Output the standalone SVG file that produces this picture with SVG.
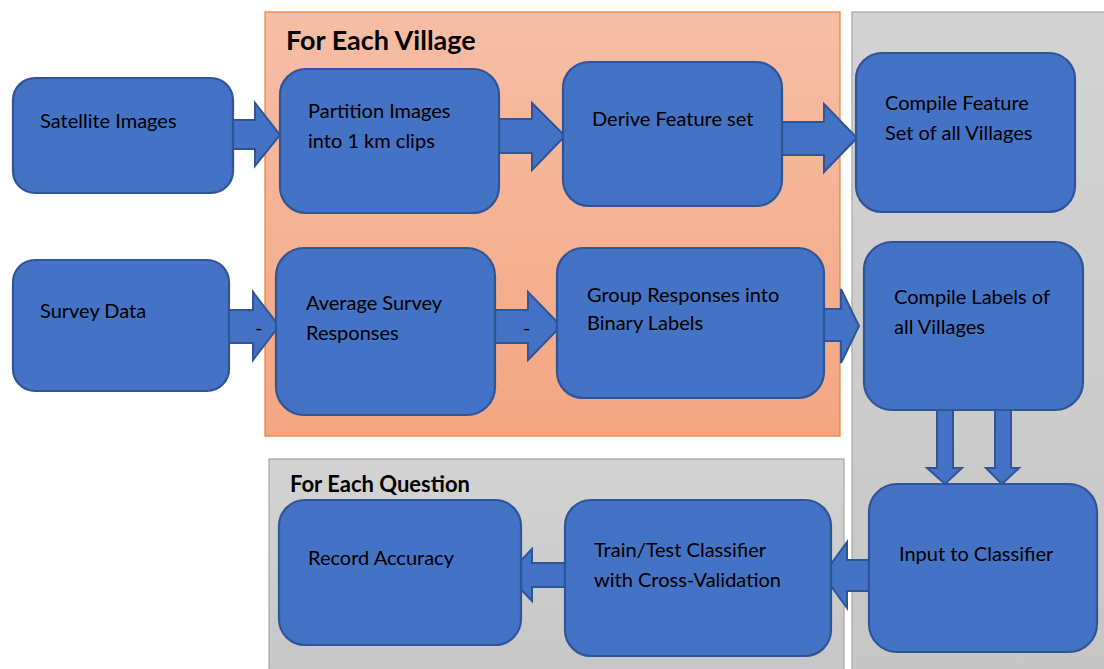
<svg xmlns="http://www.w3.org/2000/svg" width="1104" height="669" viewBox="0 0 1104 669">
<defs>
<linearGradient id="gOr" x1="0" y1="0" x2="0" y2="1"><stop offset="0" stop-color="#f6bea6"/><stop offset="1" stop-color="#f4a682"/></linearGradient>
<linearGradient id="gGr" x1="0" y1="0" x2="0" y2="1"><stop offset="0" stop-color="#d3d3d3"/><stop offset="1" stop-color="#c6c6c6"/></linearGradient>
<style>
.node{fill:#4472c4;stroke:#2f5597;stroke-width:2.2}
.arr{fill:#4472c4;stroke:#2f5597;stroke-width:2;stroke-linejoin:miter}
.t{font-family:Lato,"Open Sans",sans-serif;font-size:20px;fill:#000}
.h{font-family:Lato,"Open Sans",sans-serif;font-weight:bold;fill:#000}
</style>
</defs>
<rect width="1104" height="669" fill="#fff"/>
<g id="panels">
<rect x="265" y="12" width="575" height="424" fill="url(#gOr)" stroke="#ed7d31" stroke-width="1.2"/>
<rect x="852" y="12" width="260" height="665" fill="url(#gGr)" stroke="#a5a5a5" stroke-width="1.2"/>
<rect x="269" y="459" width="575" height="220" fill="url(#gGr)" stroke="#a5a5a5" stroke-width="1.2"/>
<text class="h" x="286" y="50" font-size="27">For Each Village</text>
<text class="h" x="290" y="492" font-size="22">For Each Question</text>
</g>
<g id="connectors">
<polygon class="arr" points="228,120 255,120 255,103 280,135 255,166 255,149 228,149"/>
<polygon class="arr" points="497,119 532,119 532,103 565,136 532,170 532,153 497,153"/>
<polygon class="arr" points="780,122 824,122 824,104 857,138 824,172 824,155 780,155"/>
<polygon class="arr" points="226,310 253,310 253,292 279,326 253,360 253,343 226,343"/>
<polygon class="arr" points="493,310 528,310 528,292 561,326 528,360 528,343 493,343"/>
<polygon class="arr" points="822,309 841,309 841,289 859,326 841,363 841,341 822,341"/>
<polygon class="arr" points="937,408 953,408 953,468 962,468 945,484 927,468 937,468"/>
<polygon class="arr" points="995,408 1011,408 1011,468 1019,468 1002,484 986,468 995,468"/>
<polygon class="arr" points="871,560 847,560 847,542 823,575 847,608 847,591 871,591"/>
<polygon class="arr" points="567,563 532,563 532,549 507,575 532,601 532,587 567,587"/>
<text class="t" x="255" y="335" font-size="15">-</text>
<text class="t" x="523" y="335" font-size="15">-</text>
</g>
<g id="n-satellite"><rect class="node" x="13" y="78" width="220" height="115" rx="22"/><text class="t" x="40" y="128">Satellite Images</text></g>
<g id="n-partition"><rect class="node" x="280" y="69" width="219" height="144" rx="26"/><text class="t" x="308" y="118">Partition Images</text><text class="t" x="308" y="148">into 1 km clips</text></g>
<g id="n-derive"><rect class="node" x="563" y="62" width="219" height="144" rx="26"/><text class="t" x="592" y="126">Derive Feature set</text></g>
<g id="n-compile-feat"><rect class="node" x="856" y="53" width="219" height="159" rx="26"/><text class="t" x="885" y="110">Compile Feature</text><text class="t" x="885" y="140">Set of all Villages</text></g>
<g id="n-survey"><rect class="node" x="13" y="260" width="216" height="131" rx="22"/><text class="t" x="40" y="318">Survey Data</text></g>
<g id="n-average"><rect class="node" x="276" y="248" width="219" height="167" rx="28"/><text class="t" x="306" y="310">Average Survey</text><text class="t" x="306" y="340">Responses</text></g>
<g id="n-group"><rect class="node" x="557" y="248" width="267" height="150" rx="26"/><text class="t" x="587" y="302">Group Responses into</text><text class="t" x="587" y="330">Binary Labels</text></g>
<g id="n-compile-labels"><rect class="node" x="864" y="242" width="219" height="168" rx="28"/><text class="t" x="894" y="304">Compile Labels of</text><text class="t" x="894" y="334">all Villages</text></g>
<g id="n-input"><rect class="node" x="869" y="484" width="228" height="168" rx="28"/><text class="t" x="899" y="561">Input to Classifier</text></g>
<g id="n-train"><rect class="node" x="565" y="500" width="266" height="156" rx="26"/><text class="t" x="594" y="557">Train/Test Classifier</text><text class="t" x="594" y="587">with Cross-Validation</text></g>
<g id="n-record"><rect class="node" x="279" y="500" width="242" height="145" rx="26"/><text class="t" x="308" y="565">Record Accuracy</text></g>
</svg>
